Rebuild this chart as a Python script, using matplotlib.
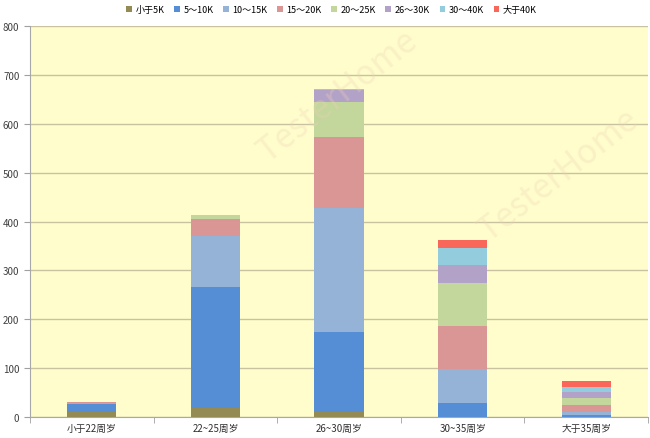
import numpy as np
import matplotlib.pyplot as plt

plt.rcParams['font.family'] = ['Noto Sans CJK SC', 'DejaVu Sans']

# age groups and salary bands
groups = ['小于22周岁', '22~25周岁', '26~30周岁', '30~35周岁', '大于35周岁']
bands = ['小于5K', '5～10K', '10～15K', '15～20K', '20～25K', '26～30K', '30～40K', '大于40K']

lt5k = [10, 19, 10, 0, 0]
k5_10 = [16, 247, 163, 29, 3]
k10_15 = [3, 105, 254, 69, 7]
k15_20 = [1, 34, 147, 89, 14]
k20_25 = [0, 9, 71, 87, 15]
k26_30 = [0, 0, 25, 38, 12]
k30_40 = [0, 0, 2, 33, 10]
gt40k = [0, 0, 0, 18, 12]

series = [lt5k, k5_10, k10_15, k15_20, k20_25, k26_30, k30_40, gt40k]
colors = ['#948A54', '#558ED5', '#95B3D7', '#D99694', '#C3D69B', '#B3A2C7', '#93CDDD', '#F8675A']

fig = plt.figure(figsize=(6.5, 4.39), dpi=100)
ax = fig.add_axes([0.046, 0.048, 0.951, 0.89])
ax.set_facecolor('#FFFDCB')

x = np.arange(len(groups))
bottom = np.zeros(len(groups))
for name, vals, c in zip(bands, series, colors):
    ax.bar(x, vals, 0.4, bottom=bottom, color=c, label=name, zorder=3)
    bottom += np.array(vals)

ax.set_xlim(-0.5, len(groups) - 0.5)
ax.set_ylim(0, 800)
ax.set_yticks(range(0, 801, 100))
ax.grid(axis='y', color='#C8C2A0', linewidth=1.0, zorder=1)
ax.set_xticks(x)
ax.set_xticklabels(groups, fontsize=7, color='#303030')
ax.set_xticks(np.arange(-0.5, len(groups), 1), minor=True)
ax.tick_params(axis='x', which='major', length=0, pad=4)
ax.tick_params(axis='x', which='minor', length=4, color='#A0A0A0')
ax.tick_params(axis='y', labelsize=7, length=4, color='#A0A0A0', labelcolor='#404040')

for s in ['top', 'right']:
    ax.spines[s].set_visible(False)
ax.spines['left'].set_color('#A8A8A8')
ax.spines['bottom'].set_color('#A8A8A8')

leg = fig.legend(loc='upper center', bbox_to_anchor=(0.51, 1.005), ncol=8,
                 frameon=False, fontsize=6.5, handlelength=0.6, handleheight=0.6,
                 handletextpad=0.4, columnspacing=1.1)

# faint watermark
for (wx, wy) in [(0.52, 0.78), (0.86, 0.6)]:
    fig.text(wx, wy, 'TesterHome', fontsize=24, color='#EED2B8', alpha=0.3,
             rotation=38, ha='center', va='center', zorder=0)

fig.savefig('out.png', dpi=100)
